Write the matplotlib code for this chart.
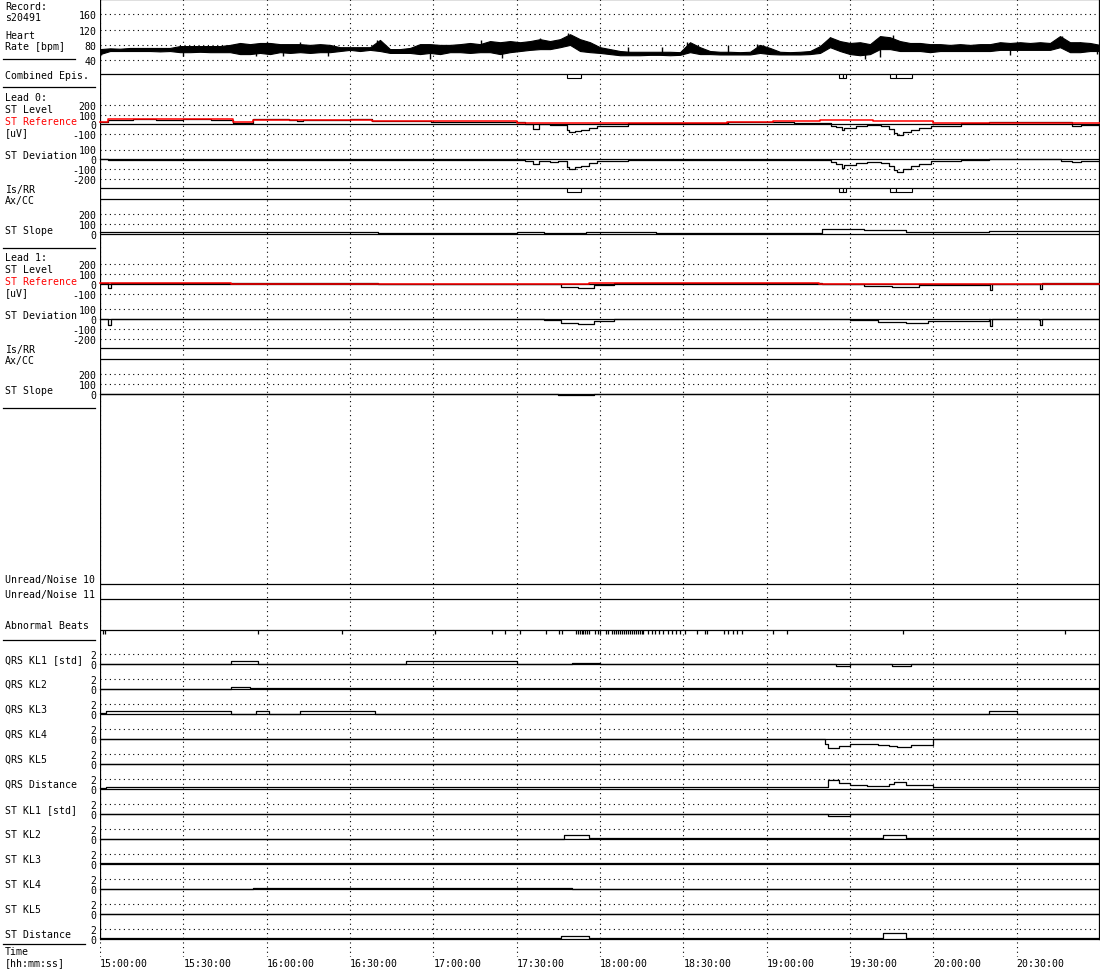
import numpy as np
import matplotlib.pyplot as plt
from matplotlib.lines import Line2D

W, H = 1100, 970
FS = 7.1
plt.rcParams['font.family'] = ['DejaVu Sans Mono']
plt.rcParams['font.size'] = FS
plt.rcParams['axes.unicode_minus'] = False
DOT = (0, (1, 3.2))

# time axis: minutes after 15:00:00
time_ticks = [0, 30, 60, 90, 120, 150, 180, 210, 240, 270, 300, 330]
time_labels = ['15:00:00', '15:30:00', '16:00:00', '16:30:00', '17:00:00', '17:30:00',
               '18:00:00', '18:30:00', '19:00:00', '19:30:00', '20:00:00', '20:30:00']

# heart rate envelope [bpm], one sample every 3.6 min
hr_t = np.arange(101) * 3.6
hr_lo = [56, 64, 64, 64, 64, 64, 63, 64, 61, 61,
         62, 61, 61, 61, 56, 56, 59, 56, 61, 59,
         61, 59, 61, 61, 64, 67, 64, 67, 64, 59,
         59, 59, 56, 59, 56, 61, 61, 59, 61, 61,
         56, 61, 64, 67, 69, 69, 74, 80, 64, 61,
         59, 56, 53, 53, 53, 54, 54, 53, 54, 61,
         56, 56, 55, 55, 55, 55, 59, 56, 55, 55,
         55, 56, 59, 74, 64, 56, 53, 56, 69, 69,
         64, 64, 64, 61, 64, 64, 64, 64, 64, 64,
         67, 67, 67, 67, 67, 67, 74, 61, 61, 64, 64]
hr_hi = [69, 71, 70, 72, 72, 72, 72, 72, 77, 77,
         77, 77, 77, 80, 85, 82, 85, 85, 82, 82,
         82, 80, 82, 80, 74, 74, 74, 74, 93, 69,
         69, 72, 82, 82, 80, 80, 82, 85, 82, 90,
         87, 90, 87, 90, 95, 90, 95, 108, 95, 87,
         74, 69, 64, 62, 62, 62, 62, 62, 61, 87,
         74, 64, 62, 62, 61, 62, 80, 72, 62, 61,
         62, 64, 77, 100, 90, 85, 87, 82, 103, 100,
         90, 85, 85, 82, 82, 80, 82, 80, 82, 82,
         87, 85, 87, 85, 87, 85, 103, 87, 87, 85, 80]
# single-beat spikes: (minute, bpm)
hr_spikes = [(0.4, 54), (29.9, 52), (56, 52), (60, 88), (66, 52), (72, 87), (82, 50),
             (99.7, 94), (118.8, 43), (137, 94), (144.7, 45), (158.4, 97), (168.5, 110),
             (190.1, 75), (202.3, 75), (211.3, 87), (226.1, 80), (236.5, 82), (262.8, 100),
             (275.4, 43), (280.8, 48), (285.5, 106), (327.6, 54), (346.3, 102), (352.8, 88),
             (359, 55)]

# combined / ischemic episodes (start, end) in minutes
episodes = [(168.0, 173.0), (266.1, 267.3), (267.3, 268.5), (284.4, 286.6), (286.6, 292.2)]

# lead 0 [uV]: (minute, value)
l0_level = [(0, 24), (3, 50), (12, 55), (20, 48), (30, 52), (40, 50), (48, 17), (55, 52),
            (62, 55), (68, 50), (71, 35), (73, 50), (80, 48), (90, 52), (98, 30), (110, 32),
            (119, 25), (130, 28), (140, 22), (150, 25), (153, 5), (156, -50), (158, 0),
            (162, -10), (165, -5), (168, -60), (169, -80), (171, -70), (173, -55), (176, -40),
            (179, -15), (190, 15), (200, 12), (210, 18), (226, 24), (240, 22), (250, 15),
            (260, 12), (263, -15), (265, -30), (267, -59), (268, -40), (272, -20), (276, -10),
            (281, -15), (284, -50), (286, -90), (287, -114), (289, -80), (292, -60), (295, -40),
            (299, -15), (310, 15), (320, 20), (330, 25), (340, 28), (346, 20), (350, -20),
            (353, -5), (360, -5)]
l0_ref = [(0, 24), (3, 52), (48, 24), (55, 45), (98, 35), (119, 31), (150, 17), (180, 10),
          (225.7, 28), (242.3, 38), (259.2, 45), (278.3, 31), (299.9, 10), (360, 10)]
l0_dev = [(0, 0), (3, -5), (20, -3), (48, -8), (55, -2), (70, -5), (100, -5), (120, -8),
          (150, -6), (153, -20), (156, -45), (158, -15), (162, -25), (165, -20), (168, -75),
          (169, -95), (171, -80), (173, -65), (176, -40), (179, -15), (190, -3), (220, -3),
          (240, -8), (260, -8), (263, -30), (265, -50), (267, -90), (268, -60), (272, -40),
          (276, -30), (281, -40), (284, -70), (286, -110), (287, -130), (289, -100),
          (292, -70), (295, -45), (299, -20), (310, -5), (320, 8), (330, 8), (338, 0),
          (346, -20), (350, -30), (353, -12), (360, -10)]
l0_slope = [(0, 20), (50, 25), (100, 15), (150, 20), (160, 10), (175, 25), (200, 15),
            (250, 15), (260, 50), (275, 40), (290, 25), (320, 30), (360, 25)]

# lead 1 [uV]
l1_level = [(0, 15), (2, 15), (3, -40), (4, 15), (60, 10), (100, 5), (160, 5), (166, -25),
            (172, -35), (178, -10), (185, 8), (260, 5), (275, -20), (285, -30), (295, -10),
            (320, 5), (320.5, -60), (321, 5), (338, 5), (338.5, -50), (339, 8), (360, 10)]
l1_ref = [(0, 12), (47, 5), (83, 0), (176, 12), (259, 0), (295, 5), (360, 5)]
l1_dev = [(0, 0), (3, -60), (4, 0), (160, -5), (166, -35), (172, -45), (178, -15), (185, 0),
          (270, -5), (280, -30), (290, -40), (298, -15), (320, 0), (320.5, -70), (321, 0),
          (338, -5), (338.5, -60), (339, 0), (360, -5)]
l1_slope = [(0, 5), (165, -10), (178, 0), (360, 5)]

# abnormal beats (minutes)
beats = [1.1, 1.8, 56.9, 87.1, 120.6, 141.1, 145.8, 151.2, 160.6, 165.2, 166.3,
         171.4, 172.0, 172.7, 173.4, 174.0, 174.7, 175.4, 176.0, 178.2, 179.3, 180.0,
         182.2, 182.9, 184.3, 185.0, 185.7, 186.4, 187.2, 187.9, 188.6, 189.3, 190.0,
         190.7, 191.4, 192.2, 192.9, 193.6, 194.3, 195.0, 195.5, 197.3, 198.7, 199.8,
         201.2, 202.7, 204.5, 205.9, 207.4, 208.8, 210.6, 214.9, 217.8, 218.5, 224.6,
         226.1, 227.9, 229.3, 231.1, 242.3, 247.3, 289.0, 347.4]

# Karhunen-Loeve coefficients [std]
kl_names = ['QRS KL1 [std]', 'QRS KL2', 'QRS KL3', 'QRS KL4', 'QRS KL5', 'QRS Distance',
            'ST KL1 [std]', 'ST KL2', 'ST KL3', 'ST KL4', 'ST KL5', 'ST Distance']
qrs_kl1 = [(0, 0.05), (2, 0), (47, 0.6), (57, 0.1), (110, 0.6), (150, 0.1), (170, 0.25),
           (180, 0.05), (265, -0.4), (270, 0.05), (285, -0.3), (292, 0.05), (360, 0.05)]
qrs_kl2 = [(0, 0.1), (47, 0.5), (54, 0.2), (145, 0.3), (150, 0.15), (360, 0.15)]
qrs_kl3 = [(0, 0.2), (2, 0.6), (47, 0.1), (56, 0.6), (61, 0.1), (72, 0.7), (99, 0.1),
           (320, 0.6), (330, 0.1), (360, 0.1)]
qrs_kl4 = [(0, 0.1), (260, 0.1), (261, -1.0), (262, -1.8), (266, -1.4), (270, -1.0),
           (280, -1.1), (284, -1.4), (287, -1.6), (292, -1.2), (300, 0.05), (360, 0.05)]
qrs_kl5 = [(0, 0.05), (360, 0.05)]
qrs_dist = [(0, 0.2), (2, 0.5), (260, 0.5), (262, 1.8), (266, 1.3), (270, 0.9), (276, 0.6),
            (284, 1.0), (286, 1.4), (290, 0.9), (300, 0.4), (360, 0.4)]
st_kl1 = [(0, 0.05), (262, -0.3), (270, 0.05), (360, 0.05)]
st_kl2 = [(0, 0.1), (167, 0.8), (176, 0.3), (282, 0.8), (290, 0.2), (360, 0.2)]
st_kl3 = [(0, 0.15), (360, 0.15)]
st_kl4 = [(0, 0.1), (55, 0.3), (145, 0.25), (170, 0.1), (360, 0.15)]
st_kl5 = [(0, 0.05), (360, 0.05)]
st_dist = [(0, 0.3), (47, 0.15), (166, 0.6), (176, 0.2), (282, 1.2), (290, 0.2), (360, 0.2)]
kl_series = [qrs_kl1, qrs_kl2, qrs_kl3, qrs_kl4, qrs_kl5, qrs_dist,
             st_kl1, st_kl2, st_kl3, st_kl4, st_kl5, st_dist]

fig = plt.figure(figsize=(11, 9.7), dpi=100)


def px_axes(x0, y0, x1, y1, z=1):
    ax = fig.add_axes([x0 / W, 1 - y1 / H, (x1 - x0) / W, (y1 - y0) / H], zorder=z)
    ax.set_xlim(0, 360)
    ax.patch.set_alpha(0)
    for s in ax.spines.values():
        s.set_visible(False)
    ax.set_xticks([])
    ax.set_yticks([])
    return ax


def strip(y0, y1, va, ya, vb, yb, ticks, solid):
    # value va sits on pixel row ya, vb on row yb
    ax = px_axes(100, y0, 1100, y1)
    k = (va - vb) / (yb - ya)
    ax.set_ylim(va - (y1 - ya) * k, va + (ya - y0) * k)
    ax.set_yticks(ticks)
    ax.tick_params(axis='y', length=0, pad=2.5, labelsize=FS)
    for v in ticks:
        if v not in solid:
            ax.axhline(v, color='black', lw=0.8, ls=DOT)
    for v in solid:
        ax.axhline(v, color='black', lw=0.9)
    return ax


def trace(ax, pairs, color='black', lw=0.9):
    t = [p[0] for p in pairs]
    v = [p[1] for p in pairs]
    ax.plot(t, v, color=color, lw=lw, drawstyle='steps-post', clip_on=False)


def label(x, y, s, color='black', **kw):
    fig.text(x / W, 1 - y / H, s, color=color, va='center', ha='left', fontsize=FS, **kw)


def sep(y, x1):
    fig.add_artist(Line2D([3 / W, x1 / W], [1 - y / H, 1 - y / H], color='black', lw=0.9))


# background: vertical time grid and frame
bg = px_axes(100, 0, 1100, 958, z=0)
bg.set_ylim(958, 0)
for tt in time_ticks:
    bg.axvline(tt, color='black', lw=0.8, ls=DOT)
bg.axvline(0, ymin=18 / 958, ymax=1, color='black', lw=0.9)
bg.axvline(359.7, ymin=18 / 958, ymax=1, color='black', lw=0.9)
for yy in [0.4, 75, 189, 200, 349, 360, 585, 600, 631]:
    bg.axhline(yy, color='black', lw=0.9)
bg.set_xticks(time_ticks)
bg.set_xticklabels(time_labels, ha='left')
bg.tick_params(axis='x', length=0, pad=1, labelsize=FS)

# heart rate
ax = strip(0, 75, 160, 15.3, 40, 61.2, [40, 80, 120, 160], [])
ax.fill_between(hr_t, hr_lo, hr_hi, color='black', lw=0.8)
sp_t = [s[0] for s in hr_spikes]
sp_v = [s[1] for s in hr_spikes]
ax.vlines(sp_t, np.interp(sp_t, hr_t, (np.array(hr_lo) + np.array(hr_hi)) / 2), sp_v,
          color='black', lw=1.0)

# episodes under combined and lead 0 Is/RR rows
for top in [75, 189]:
    ea = px_axes(100, top, 1100, top + 11)
    ea.set_ylim(11, 0)
    ea.bar([e[0] for e in episodes], 3.5, width=[e[1] - e[0] for e in episodes], bottom=0,
           align='edge', facecolor='white', edgecolor='black', lw=0.8)

# lead 0
ax = strip(88, 142, 200, 106, -100, 135, [200, 100, 0, -100], [0])
trace(ax, l0_level)
trace(ax, l0_ref, color='#ff0000', lw=1.1)
ax = strip(142, 189, 100, 150.5, -200, 180.2, [100, 0, -100, -200], [0])
trace(ax, l0_dev)
ax = strip(200, 249, 200, 215, 0, 235, [200, 100, 0], [0])
trace(ax, l0_slope)

# lead 1
ax = strip(249, 302, 200, 265, -100, 295, [200, 100, 0, -100], [0])
trace(ax, l1_level)
trace(ax, l1_ref, color='#ff0000', lw=1.1)
ax = strip(302, 349, 100, 310, -200, 340, [100, 0, -100, -200], [0])
trace(ax, l1_dev)
ax = strip(360, 408, 200, 375, 0, 395, [200, 100, 0], [0])
trace(ax, l1_slope)

# abnormal beats
ba = px_axes(100, 631, 1100, 641)
ba.set_ylim(10, 0)
ba.vlines(beats, 0, 3.5, color='black', lw=0.9)

# KL strips
for i, (name, ser) in enumerate(zip(kl_names, kl_series)):
    base = 665 + 25 * i
    ax = strip(base - 22, base + 3, 2, base - 10, 0, base, [2, 0], [0])
    trace(ax, ser)
    label(5, base - 5, name)

# left-hand labels
label(5, 7, 'Record:')
label(5, 18, 's20491')
label(5, 36, 'Heart')
label(5, 47, 'Rate [bpm]')
sep(60, 75)
label(5, 76, 'Combined Epis.')
sep(88, 95)
for top, lead in [(0, 'Lead 0:'), (160, 'Lead 1:')]:
    label(5, 98 + top, lead)
    label(5, 110 + top, 'ST Level')
    label(5, 122 + top, 'ST Reference', color='#ff0000')
    label(5, 133 + top, '[uV]')
    label(5, 156 + top, 'ST Deviation')
    label(5, 190 + top, 'Is/RR')
    label(5, 201 + top, 'Ax/CC')
    label(5, 231 + top, 'ST Slope')
    sep(249 + top, 95)
label(5, 580, 'Unread/Noise 10')
label(5, 595, 'Unread/Noise 11')
label(5, 626, 'Abnormal Beats')
sep(641, 95)
sep(945, 85)
label(5, 952, 'Time')
label(5, 963, '[hh:mm:ss]')

fig.savefig('out.png', dpi=100)
